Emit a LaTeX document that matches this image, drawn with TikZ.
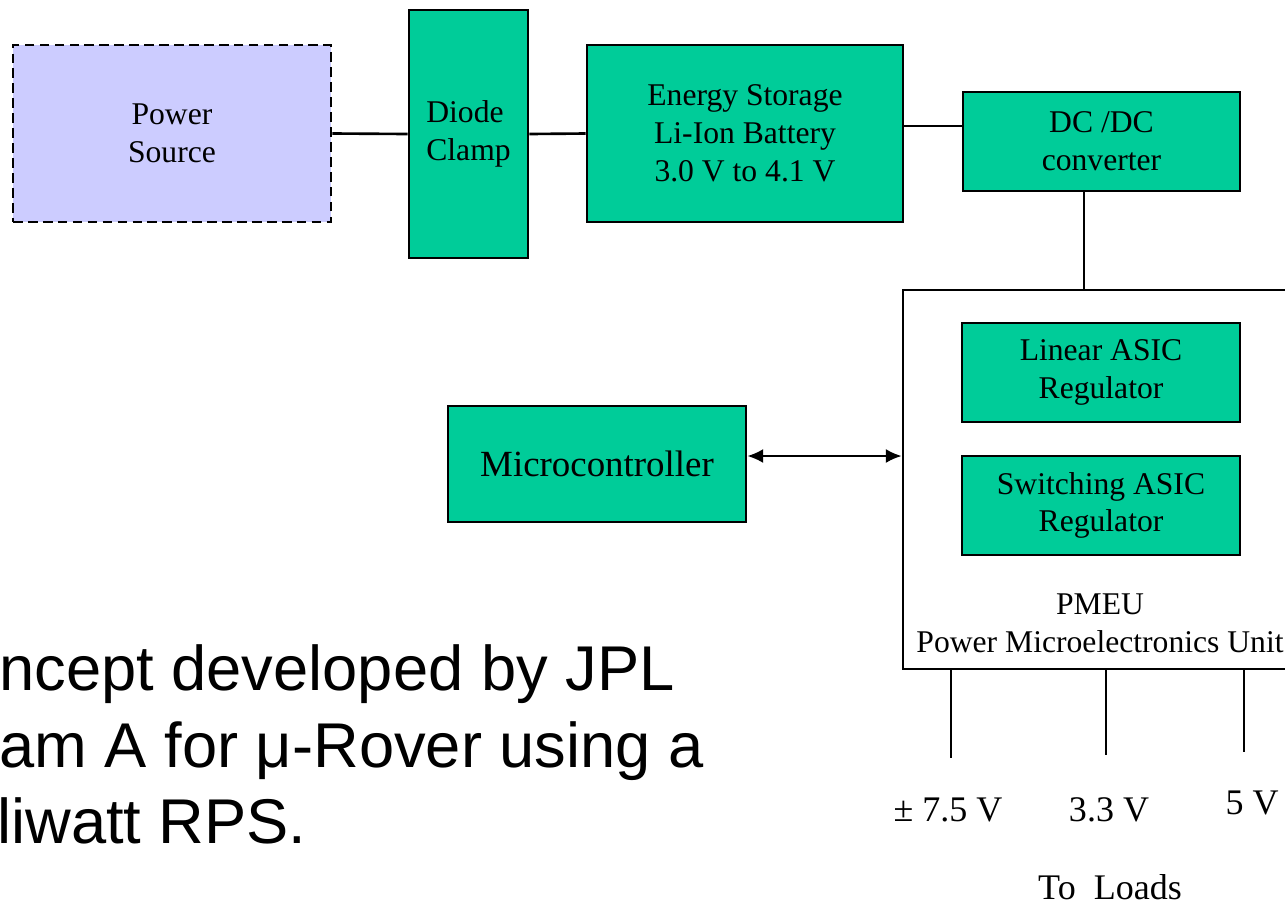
\documentclass[tikz,border=0pt]{standalone}
\usepackage{fontspec}
\setmainfont{Liberation Serif}
\newfontfamily\notefont{Liberation Sans}
\usetikzlibrary{arrows.meta}

\definecolor{blockgreen}{RGB}{0,204,153}
\definecolor{sourceblue}{RGB}{204,204,255}

\tikzset{
	block/.style={draw, line width=1.6pt, fill=blockgreen, inner sep=0pt, align=center,
		font=\fontsize{18}{21.5}\selectfont},
	wire/.style={line width=1.5pt},
	volt/.style={anchor=base, inner sep=0pt, font=\fontsize{20.5}{24}\selectfont},
	note/.style={anchor=base west, inner sep=0pt, font=\notefont\fontsize{36}{43.6}\selectfont},
}

\begin{document}
\begin{tikzpicture}[x=0.02cm, y=-0.02cm]
		\useasboundingbox (0,0) rectangle (1285,907);
		\clip (0,0) rectangle (1285,907);

		% top chain
		\node [block, fill=sourceblue, dash pattern=on 5.5pt off 3pt, minimum width=6.36cm, minimum height=3.54cm] (source) at (172,133.5) {Power\\Source};
		\node [block, align=left, minimum width=2.38cm, minimum height=4.96cm] (diode) at (468.5,134) {Diode\\Clamp};
		\node [block, minimum width=6.32cm, minimum height=3.54cm] (storage) at (745,133.5) {Energy Storage\\Li-Ion Battery\\3.0 V to 4.1 V};
		\node [block, minimum width=5.54cm, minimum height=1.98cm] (dcdc) at (1101.5,141.5) {DC /DC\\converter};

		% power unit
		\node [block, fill=white, minimum width=8cm, minimum height=7.58cm] (pmeu) at (1103,479.5) {};
		\node [block, minimum width=5.56cm, minimum height=1.98cm] (linear) at (1101,372.5) {Linear ASIC\\Regulator};
		\node [block, minimum width=5.56cm, minimum height=1.98cm] (switching) at (1101,505.5) {Switching ASIC\\Regulator};
		\node [align=center, inner sep=0pt, font=\fontsize{18}{21.5}\selectfont] (pmeulabel) at (1100,623) {PMEU\\Power Microelectronics Unit};

		\node [block, minimum width=5.96cm, minimum height=2.32cm, font=\fontsize{21}{25}\selectfont] (micro) at (597,464) {Microcontroller};

		\draw [wire] (source.east) -- (diode.west);
		\draw [wire] (diode.east) -- (storage.west);
		\draw [wire] ([yshift=0.31cm]dcdc.west) -- ([yshift=0.31cm]dcdc.west -| storage.east);
		\draw [wire] ([xshift=-0.35cm]dcdc.south) -- ([xshift=-0.35cm]dcdc.south |- pmeu.north);
		\draw [{Latex[length=9pt,width=8pt]}-{Latex[length=9pt,width=8pt]}, line width=1.2pt] ([yshift=0.16cm]micro.east) -- ([yshift=0.16cm]micro.east -| pmeu.west);

		% outputs
		\coordinate (out1) at (951,758);
		\coordinate (out2) at (1106,755);
		\coordinate (out3) at (1244,752);
		\draw [wire] (pmeu.south -| out1) -- (out1);
		\draw [wire] (pmeu.south -| out2) -- (out2);
		\draw [wire] (pmeu.south -| out3) -- (out3);
		\node [volt] (v1) at (948,821) {± 7.5 V};
		\node [volt] (v2) at (1109,821) {3.3 V};
		\node [volt] (v3) at (1252,814) {5 V};
		\node [volt] (loads) at (1110,899) {To\ \ Loads};

		% caption text, cut at the left edge
		\node [note] (note1) at (-1,690) {ncept developed by JPL};
		\node [note] (note2) at (-1,767) {am A for μ-Rover using a};
		\node [note] (note3) at (-3,843) {liwatt RPS.};
	\end{tikzpicture}
\end{document}
